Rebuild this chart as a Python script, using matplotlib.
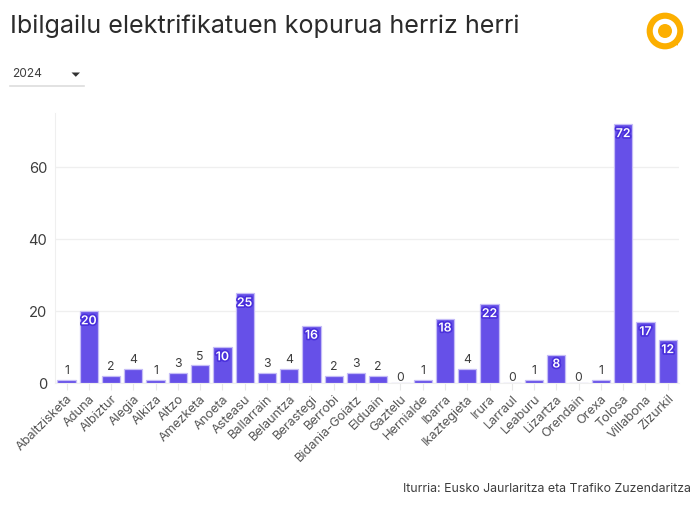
import matplotlib
matplotlib.use("Agg")
import matplotlib.pyplot as plt
import matplotlib.patheffects as pe
from matplotlib.patches import Circle, Polygon

plt.rcParams["font.family"] = ["Inter", "DejaVu Sans"]

# ---- data ----
herriak = [
    "Abaltzisketa", "Aduna", "Albiztur", "Alegia", "Alkiza", "Altzo", "Amezketa",
    "Anoeta", "Asteasu", "Ballarrain", "Belauntza", "Berastegi", "Berrobi",
    "Bidania-Goiatz", "Elduain", "Gaztelu", "Hernialde", "Ibarra", "Ikaztegieta",
    "Irura", "Larraul", "Leaburu", "Lizartza", "Orendain", "Orexa", "Tolosa",
    "Villabona", "Zizurkil",
]
kopurua = [1, 20, 2, 4, 1, 3, 5, 10, 25, 3, 4, 16, 2, 3, 2, 0, 1, 18, 4, 22, 0, 1, 8, 0, 1, 72, 17, 12]
y_ticks = [0, 20, 40, 60]

W, H = 700, 507
BAR = "#6650e8"
BAR_EDGE = "#c5bcf7"
LABEL_BG = "#4a30dc"
TEXT = "#3d3d3d"
GRID = "#efefef"

fig = plt.figure(figsize=(W / 100, H / 100), dpi=100)

# plot area, given in pixels from the top left
left, right, top, bottom = 55.4, 678.8, 113, 383.3
ax = fig.add_axes([left / W, 1 - bottom / H, (right - left) / W, (bottom - top) / H])

xs = range(len(herriak))
ax.bar(xs, kopurua, width=0.82, color=BAR, edgecolor=BAR_EDGE, linewidth=0.9, zorder=3)

ax.set_xlim(-0.5, len(herriak) - 0.5)
ax.set_ylim(0, (bottom - top) / 3.6)
ax.set_yticks(y_ticks)
ax.set_xticks(list(xs))
ax.set_xticklabels(herriak, rotation=45, ha="right", va="top", rotation_mode="anchor",
                   fontsize=9.2, color="#555555")
ax.tick_params(axis="x", length=5, color="#e8e8e8", width=0.8, pad=2)
ax.tick_params(axis="y", length=0, labelsize=10.6, labelcolor=TEXT, pad=6)
ax.grid(axis="y", color=GRID, linewidth=0.9, zorder=0)
ax.set_axisbelow(True)
for side in ["top", "right"]:
    ax.spines[side].set_visible(False)
ax.spines["left"].set_color(GRID)
ax.spines["bottom"].set_color(GRID)

# small values sit above the bar, the rest inside with a dark outline
for x, v in zip(xs, kopurua):
    if v >= 8:
        ax.annotate(str(v), (x, v), xytext=(0, -7.2), textcoords="offset points",
                    ha="center", va="center", fontsize=8.8, fontweight="semibold", color="white",
                    path_effects=[pe.withStroke(linewidth=2.4, foreground=LABEL_BG)], zorder=4)
    else:
        dy = 4 if v == 0 else 6.2
        ax.annotate(str(v), (x, v), xytext=(0, dy), textcoords="offset points",
                    ha="center", va="center", fontsize=8.8, color=TEXT, zorder=4)

# overlay in pixel coordinates for the header, dropdown and logo
over = fig.add_axes([0, 0, 1, 1], zorder=5)
over.set_xlim(0, W)
over.set_ylim(H, 0)
over.axis("off")

over.text(10, 26, "Ibilgailu elektrifikatuen kopurua herriz herri", fontsize=18.1,
          color="#2b2b2b", ha="left", va="center")

over.text(12.5, 74, "2024", fontsize=8.6, color=TEXT, ha="left", va="center")
over.add_patch(Polygon([[71.5, 72.5], [80, 72.5], [75.8, 76.8]], closed=True, fc="#333333", ec="none"))
over.plot([10, 84], [86, 86], color="#dddddd", linewidth=1.2)

over.text(691, 489.5, "Iturria: Eusko Jaurlaritza eta Trafiko Zuzendaritza", fontsize=8.9,
          color=TEXT, ha="right", va="center")

LOGO = "#fcaf00"
over.add_patch(Circle((665, 31), 15.3, fc="none", ec=LOGO, linewidth=4.4))
over.add_patch(Circle((665, 31), 7, fc=LOGO, ec="none"))
over.add_patch(Polygon([[670, 43], [678, 38], [678, 45.5]], closed=True, fc=LOGO, ec="none"))

fig.savefig("out.png", dpi=100)
